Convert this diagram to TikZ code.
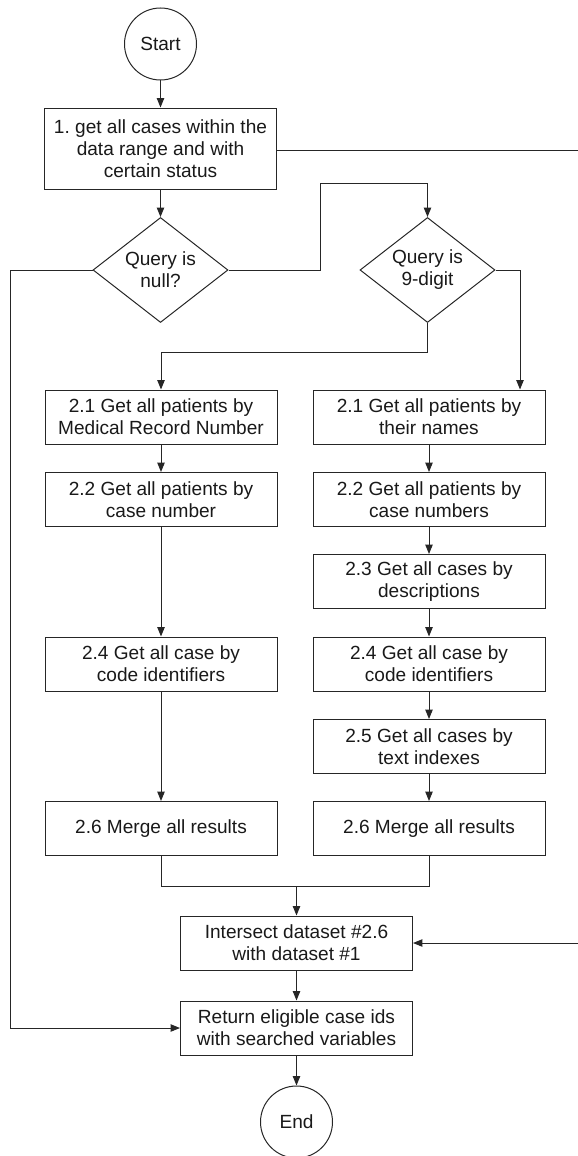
\documentclass[tikz,border=0pt]{standalone}
\usepackage{fontspec}
\setmainfont{Liberation Sans}
\usetikzlibrary{shapes.geometric,arrows.meta}
\frenchspacing
\begin{document}
\begin{tikzpicture}[x=0.75pt,y=-0.75pt,
  every node/.style={font=\fontsize{14.3pt}{16.6pt}\selectfont, text=black!90},
  line/.style={draw=black!85, line width=0.75pt},
  arr/.style={line, -{Triangle[length=7pt,width=5.5pt]}},
  proc/.style={line, rectangle, align=center, inner sep=0pt, minimum width=174pt, minimum height=40.5pt},
  term/.style={line, circle, inner sep=0pt, minimum size=54pt},
  dec/.style={line, diamond, align=center, inner sep=0pt, aspect=1.286, minimum width=101.25pt, minimum height=78.75pt}]
\useasboundingbox (0,0) rectangle (578,1156);
% nodes
\node[term] (start) at (160.5,44) {Start};
\node[proc, minimum height=60.75pt] (b1) at (160.5,148.5) {1. get all cases within the\\data range and with\\certain status};
\node[dec] (d1) at (160.5,270) {Query is\\null?};
\node[dec] (d2) at (427.5,270) {Query is\\9-digit};
\node[proc] (l21) at (161,417) {2.1 Get all patients by\\Medical Record Number};
\node[proc] (l22) at (161,499.5) {2.2 Get all patients by\\case number};
\node[proc] (l24) at (161,664) {2.4 Get all case by\\code identifiers};
\node[proc] (l26) at (161,828.5) {2.6 Merge all results};
\node[proc] (r21) at (429,417) {2.1 Get all patients by\\their names};
\node[proc] (r22) at (429,499.5) {2.2 Get all patients by\\case numbers};
\node[proc] (r23) at (429,581.5) {2.3 Get all cases by\\descriptions};
\node[proc] (r24) at (429,664) {2.4 Get all case by\\code identifiers};
\node[proc] (r25) at (429,746.5) {2.5 Get all cases by\\text indexes};
\node[proc] (r26) at (429,828.5) {2.6 Merge all results};
\node[proc] (inter) at (296.5,943) {Intersect dataset \#2.6\\with dataset \#1};
\node[proc] (ret) at (296.5,1028) {Return eligible case ids\\with searched variables};
\node[term] (end) at (296.5,1122) {End};
% helper coordinates
\coordinate (e1) at (578,150);
\coordinate (e2) at (578,943);
\coordinate (lx) at (10,270);
\coordinate (c1) at (320,183);
\coordinate (rx) at (520,270);
\coordinate (my) at (0,352);
\coordinate (mj) at (296.5,886);
% connectors
\draw[arr] (start) -- (b1);
\draw[line] (b1.east |- e1) -- (e1);
\draw[arr] (b1) -- (d1);
\draw[arr] (d1.west) -- (lx) |- (ret.west);
\draw[arr] (d1.east) -| (c1) -| (d2.north);
\draw[arr] (d2.east) -- (rx) -- (rx |- r21.north);
\draw[arr] (d2.south) -- (d2.south |- my) -| (l21.north);
\draw[arr] (l21) -- (l22);
\draw[arr] (l22) -- (l24);
\draw[arr] (l24) -- (l26);
\draw[arr] (r21) -- (r22);
\draw[arr] (r22) -- (r23);
\draw[arr] (r23) -- (r24);
\draw[arr] (r24) -- (r25);
\draw[arr] (r25) -- (r26);
\draw[line] (l26.south) |- (mj) -| (r26.south);
\draw[arr] (mj) -- (inter.north);
\draw[arr] (e2) -- (inter.east);
\draw[arr] (inter) -- (ret);
\draw[arr] (ret) -- (end);
\end{tikzpicture}
\end{document}
